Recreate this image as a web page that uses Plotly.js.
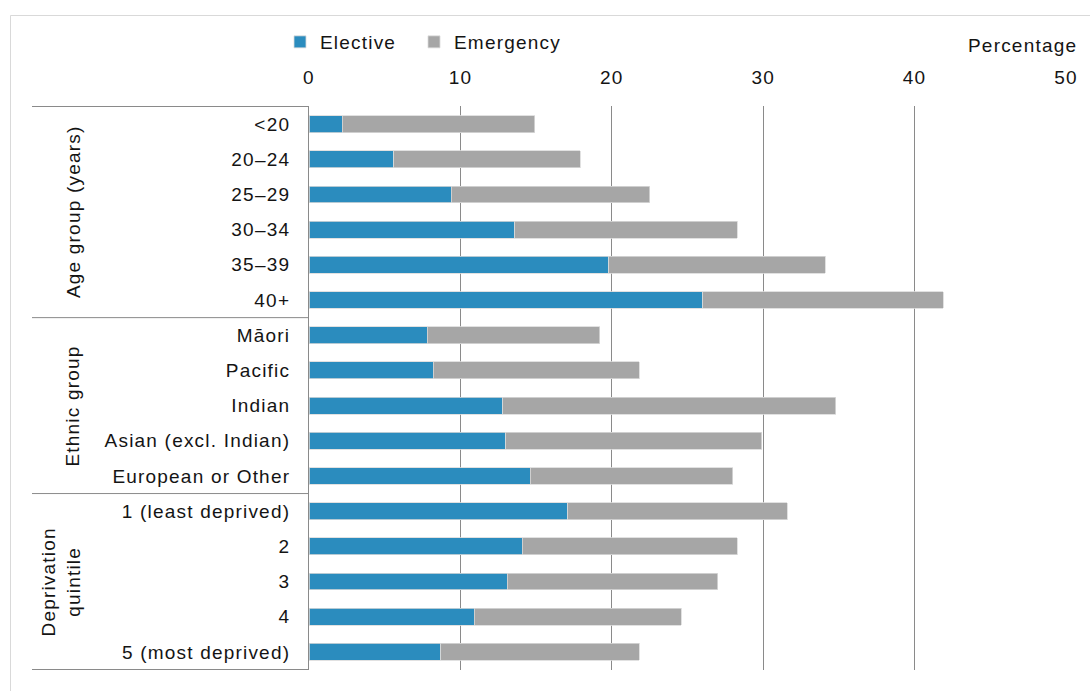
<!DOCTYPE html>
<html>
<head>
<meta charset="utf-8">
<script src="https://cdn.plot.ly/plotly-3.0.1.min.js"></script>
<style>
html,body{margin:0;padding:0;background:#fff;}
#chart{width:1090px;height:691px;}
text{letter-spacing:1.2px;}
</style>
</head>
<body>
<div id="chart"></div>
<script>
// Categories (top to bottom)
const categories = [
  "<20", "20–24", "25–29", "30–34", "35–39", "40+",
  "Māori", "Pacific", "Indian", "Asian (excl. Indian)", "European or Other",
  "1 (least deprived)", "2", "3", "4", "5 (most deprived)"
];
// Elective caesarean percentage
const elective = [2.2, 5.6, 9.4, 13.6, 19.8, 26.0,
                  7.8, 8.2, 12.8, 13.0, 14.6,
                  17.1, 14.1, 13.1, 10.9, 8.7];
// Emergency caesarean percentage
const emergency = [12.7, 12.3, 13.1, 14.7, 14.3, 15.9,
                   11.4, 13.6, 22.0, 16.9, 13.4,
                   14.5, 14.2, 13.9, 13.7, 13.1];
// Group labels and their row spans
const groupLabels = ["Age group (years)", "Ethnic group", "Deprivation<br>quintile"];
const groupStart = [0, 6, 11];
const groupEnd = [5, 10, 15];
const xTicks = [0, 10, 20, 30, 40, 50];

const FONT = "Liberation Sans, Arial, sans-serif";
const FS = 19;
const TXT = "#141414";
const lineCol = "#8a8a8a";

const traces = [
  {type: "bar", orientation: "h", name: "Elective", y: categories, x: elective,
   legend: "legend",
   marker: {color: "#2b8cbe", line: {color: "#dadada", width: 0.8}}},
  {type: "bar", orientation: "h", name: "Emergency", y: categories, x: emergency,
   legend: "legend2",
   marker: {color: "#a6a6a6", line: {color: "#dadada", width: 0.8}}}
];

const PX = v => (v - 309) / 757;   // pixel -> paper x
const PY = v => (670 - v) / 564;   // pixel -> paper y

const shapes = [];
// outer frame
shapes.push({type: "rect", xref: "paper", yref: "paper",
  x0: PX(10.5), x1: 1.2, y0: -0.2, y1: PY(15.5),
  line: {color: "#d9d9d9", width: 1}, fillcolor: "rgba(0,0,0,0)", layer: "below"});
// group separator lines
const bounds = [groupStart[0] - 0.5].concat(groupEnd.map(e => e + 0.5));
bounds.forEach(b => shapes.push({type: "line", xref: "paper", yref: "y",
  x0: PX(32), x1: 0, y0: b, y1: b, line: {color: lineCol, width: 1}}));

const annotations = groupLabels.map((g, i) => ({
  text: g, xref: "paper", yref: "y", x: PX(g.indexOf("<br>") >= 0 ? 61 : 73),
  y: (groupStart[i] + groupEnd[i]) / 2, textangle: -90, showarrow: false,
  xanchor: "center", yanchor: "middle",
  font: {family: FONT, size: FS, color: TXT}
}));
annotations.push({text: "Percentage", xref: "paper", yref: "paper",
  x: PX(1022), y: PY(46), showarrow: false,
  xanchor: "center", yanchor: "middle", font: {family: FONT, size: FS, color: TXT}});

const legendBase = {orientation: "h", xanchor: "left", yanchor: "middle", y: PY(42),
  itemwidth: 30, font: {family: FONT, size: FS, color: TXT}, bgcolor: "rgba(0,0,0,0)"};

const layout = {
  width: 1090, height: 691,
  margin: {l: 309, r: 24, t: 106, b: 21},
  paper_bgcolor: "#fff", plot_bgcolor: "#fff",
  barmode: "stack", bargap: 0.52,
  font: {family: FONT, size: FS, color: TXT},
  xaxis: {side: "top", range: [0, 50], tickvals: xTicks, ticktext: xTicks.map(String),
    showgrid: true, gridcolor: lineCol, gridwidth: 1, zeroline: false, showline: false,
    ticks: "outside", ticklen: 0, ticklabelstandoff: 13, fixedrange: true,
    tickfont: {family: FONT, size: FS, color: TXT}},
  yaxis: {type: "category", categoryorder: "array", categoryarray: categories,
    autorange: "reversed", showline: true, linecolor: lineCol, linewidth: 1,
    showgrid: false, zeroline: false, ticks: "outside", ticklen: 0, ticklabelstandoff: 14,
    tickfont: {family: FONT, size: FS, color: TXT}},
  legend: Object.assign({}, legendBase, {x: PX(280)}),
  legend2: Object.assign({}, legendBase, {x: PX(414)}),
  shapes: shapes,
  annotations: annotations,
  showlegend: true
};

Plotly.newPlot("chart", traces, layout, {displayModeBar: false, staticPlot: true});
</script>
</body>
</html>
